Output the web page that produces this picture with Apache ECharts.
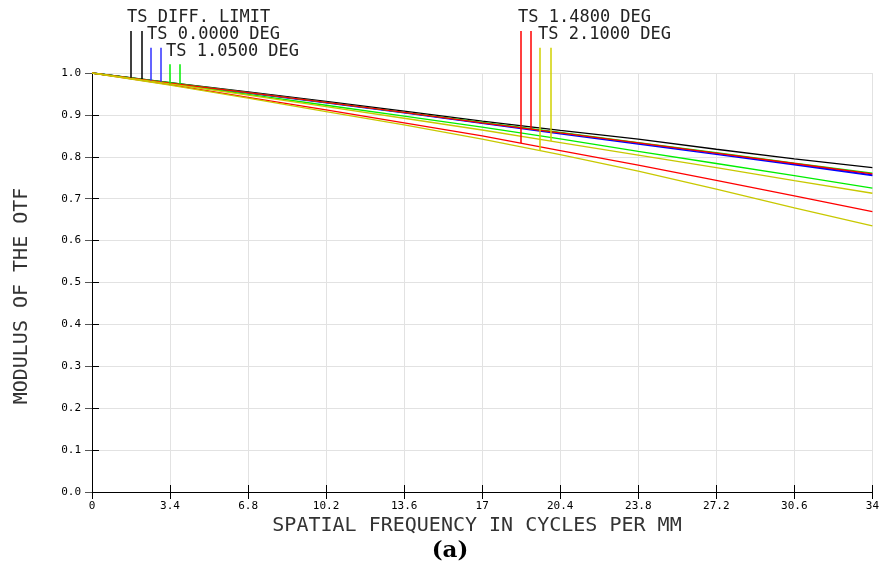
<!DOCTYPE html>
<html>
<head>
<meta charset="utf-8">
<script src="https://cdn.jsdelivr.net/npm/echarts@6/dist/echarts.min.js"></script>
<style>
html,body{margin:0;padding:0;background:#fff;}
#chart{width:882px;height:573px;}
</style>
</head>
<body>
<div id="chart"></div>
<script>
// Spatial frequency samples (cycles/mm)
var freq = [0, 3.4, 6.8, 10.2, 13.6, 17, 20.4, 23.8, 27.2, 30.6, 34];
var xTickLabels = ['0','3.4','6.8','10.2','13.6','17','20.4','23.8','27.2','30.6','34'];
var yTickLabels = ['0.0','0.1','0.2','0.3','0.4','0.5','0.6','0.7','0.8','0.9','1.0'];

// MTF values
var diffLimit = [1.000, 0.977, 0.955, 0.932, 0.909, 0.885, 0.863, 0.842, 0.818, 0.795, 0.774];
var deg0T     = [1.000, 0.976, 0.952, 0.929, 0.905, 0.880, 0.855, 0.830, 0.806, 0.781, 0.755];
var deg0S     = [1.000, 0.976, 0.953, 0.930, 0.906, 0.881, 0.857, 0.832, 0.808, 0.783, 0.757];
var deg105T   = [1.000, 0.975, 0.949, 0.923, 0.897, 0.871, 0.843, 0.813, 0.784, 0.755, 0.725];
var deg105S   = [1.000, 0.977, 0.953, 0.930, 0.906, 0.882, 0.858, 0.834, 0.810, 0.785, 0.761];
var deg148T   = [1.000, 0.972, 0.942, 0.912, 0.881, 0.850, 0.815, 0.780, 0.744, 0.707, 0.669];
var deg148S   = [1.000, 0.976, 0.953, 0.930, 0.906, 0.881, 0.857, 0.833, 0.809, 0.784, 0.759];
var deg21T    = [1.000, 0.971, 0.940, 0.908, 0.876, 0.842, 0.805, 0.766, 0.723, 0.678, 0.635];
var deg21S    = [1.000, 0.974, 0.947, 0.920, 0.892, 0.864, 0.834, 0.804, 0.774, 0.743, 0.713];

// Legend marker ticks: frequency where the tick touches its curve, and the tick's top (MTF units above 1)
var markerFreq = [1.69, 2.16, 2.55, 3.00, 3.39, 3.85, 18.68, 19.14, 19.54, 19.99];
var markerTop  = [1.100, 1.100, 1.060, 1.060, 1.021, 1.021, 1.100, 1.100, 1.060, 1.060];

var C_BLACK = '#000000', C_BLUE = '#0000ff', C_GREEN = '#00ee00', C_RED = '#ff0000', C_YEL = '#c8c800';

var markerCurves = [diffLimit, diffLimit, deg0T, deg0S, deg105T, deg105S, deg148T, deg148S, deg21T, deg21S];
var markerColors = [C_BLACK, C_BLACK, '#3030ff', '#3030ff', C_GREEN, C_GREEN, C_RED, C_RED, '#d0d000', '#d0d000'];

function interp(curve, x) {
  for (var i = 0; i < freq.length - 1; i++) {
    if (x >= freq[i] && x <= freq[i + 1]) {
      var t = (x - freq[i]) / (freq[i + 1] - freq[i]);
      return curve[i] + t * (curve[i + 1] - curve[i]);
    }
  }
  return curve[curve.length - 1];
}
function pairs(vals) { return freq.map(function (f, i) { return [f, vals[i]]; }); }

var markerData = markerFreq.map(function (f, i) {
  return [f, interp(markerCurves[i], f), markerTop[i], i];
});

function lineSeries(name, vals, color) {
  return {
    name: name, type: 'line', data: pairs(vals), showSymbol: false, symbol: 'none',
    lineStyle: { color: color, width: 1.3 }, itemStyle: { color: color },
    animation: false, z: 3
  };
}

var monoFont = '"DejaVu Sans Mono", "Liberation Mono", monospace';

var chart = echarts.init(document.getElementById('chart'), null, { renderer: 'canvas' });
chart.setOption({
  backgroundColor: '#ffffff',
  animation: false,
  grid: { left: 92, right: 7, top: 73, bottom: 81 },
  xAxis: [{
    type: 'value', min: 0, max: 34, interval: 3.4, position: 'bottom',
    axisLine: { show: true, lineStyle: { color: '#000', width: 1 } },
    axisTick: { show: true, inside: true, length: 7, lineStyle: { color: '#000' } },
    axisLabel: {
      color: '#000', fontFamily: monoFont, fontSize: 11, margin: 9,
      formatter: function (v) { return xTickLabels[Math.round(v / 3.4)]; }
    },
    splitLine: { show: true, lineStyle: { color: '#e2e2e2', width: 1 } }
  }, {
    type: 'value', min: 0, max: 34, interval: 3.4, position: 'top',
    axisLine: { show: true, lineStyle: { color: '#000', width: 1 } },
    axisTick: { show: true, inside: true, length: 7, lineStyle: { color: '#000' } },
    axisLabel: { show: false }, splitLine: { show: false }
  }],
  yAxis: [{
    type: 'value', min: 0, max: 1, interval: 0.1, position: 'left',
    axisLine: { show: true, lineStyle: { color: '#000', width: 1 } },
    axisTick: { show: true, inside: true, length: 7, lineStyle: { color: '#000' } },
    axisLabel: {
      color: '#000', fontFamily: monoFont, fontSize: 11, margin: 11,
      formatter: function (v) { return yTickLabels[Math.round(v * 10)]; }
    },
    splitLine: { show: true, lineStyle: { color: '#e2e2e2', width: 1 } }
  }, {
    type: 'value', min: 0, max: 1, interval: 0.1, position: 'right',
    axisLine: { show: true, lineStyle: { color: '#000', width: 1 } },
    axisTick: { show: true, inside: true, length: 7, lineStyle: { color: '#555' } },
    axisLabel: { show: false }, splitLine: { show: false }
  }],
  series: [
    lineSeries('TS DIFF. LIMIT', diffLimit, C_BLACK),
    lineSeries('0.0000 T', deg0T, C_BLUE),
    lineSeries('0.0000 S', deg0S, C_BLUE),
    lineSeries('1.0500 T', deg105T, C_GREEN),
    lineSeries('1.0500 S', deg105S, C_GREEN),
    lineSeries('1.4800 T', deg148T, C_RED),
    lineSeries('1.4800 S', deg148S, C_RED),
    lineSeries('2.1000 T', deg21T, C_YEL),
    lineSeries('2.1000 S', deg21S, C_YEL),
    {
      type: 'custom', name: 'markers', data: markerData, clip: false, z: 4, animation: false,
      renderItem: function (params, api) {
        var p1 = api.coord([api.value(0), api.value(1)]);
        var p2 = api.coord([api.value(0), api.value(2)]);
        var idx = api.value(3);
        var x = Math.round(p1[0]);
        return {
          type: 'line',
          shape: { x1: x, y1: p1[1], x2: x, y2: p2[1] },
          style: { stroke: markerColors[idx], lineWidth: 1.5 }
        };
      }
    }
  ],
  graphic: [
    { type: 'text', left: 127, top: 9, style: { text: 'TS DIFF. LIMIT', font: '17px ' + monoFont, fill: '#222' } },
    { type: 'text', left: 147, top: 26, style: { text: 'TS 0.0000 DEG', font: '17px ' + monoFont, fill: '#222' } },
    { type: 'text', left: 166, top: 43, style: { text: 'TS 1.0500 DEG', font: '17px ' + monoFont, fill: '#222' } },
    { type: 'text', left: 518, top: 9, style: { text: 'TS 1.4800 DEG', font: '17px ' + monoFont, fill: '#222' } },
    { type: 'text', left: 538, top: 26, style: { text: 'TS 2.1000 DEG', font: '17px ' + monoFont, fill: '#222' } },
    { type: 'text', x: 477, y: 526, style: { text: 'SPATIAL FREQUENCY IN CYCLES PER MM', font: '20px ' + monoFont, fill: '#333', align: 'center', verticalAlign: 'middle' } },
    { type: 'text', x: 22, y: 296, rotation: Math.PI / 2, style: { text: 'MODULUS OF THE OTF', font: '20px ' + monoFont, fill: '#333', align: 'center', verticalAlign: 'middle' } },
    { type: 'text', x: 450, y: 551, style: { text: '(a)', font: 'bold 23px "DejaVu Serif", "Liberation Serif", serif', fill: '#000', align: 'center', verticalAlign: 'middle' } }
  ]
});
</script>
</body>
</html>
